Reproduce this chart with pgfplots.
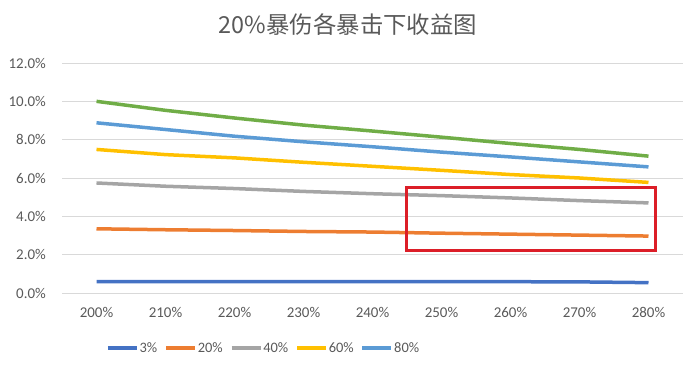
\documentclass[border=0pt]{standalone}
\usepackage{fontspec}
\setmainfont{Carlito}
\newfontfamily\cjk{Noto Sans CJK SC}
\usepackage{pgfplots}
\pgfplotsset{compat=1.18}
\definecolor{cA}{HTML}{4472C4}
\definecolor{cB}{HTML}{ED7D31}
\definecolor{cC}{HTML}{A5A5A5}
\definecolor{cD}{HTML}{FFC000}
\definecolor{cE}{HTML}{5B9BD5}
\definecolor{cF}{HTML}{70AD47}
\definecolor{txt}{HTML}{595959}
\definecolor{grd}{HTML}{D9D9D9}
\definecolor{redbox}{HTML}{DC1E28}
\begin{document}
\begin{tikzpicture}
\useasboundingbox (-62bp,-76bp) rectangle (638bp,293bp);
\node[font=\cjk\fontsize{23.5}{28}\selectfont, text=txt] at (286bp,268bp) {20\%暴伤各暴击下收益图};
\begin{axis}[
  at={(0,0)}, anchor=south west,
  scale only axis, width=621bp, height=230bp,
  xmin=-0.5, xmax=8.5, ymin=0, ymax=12,
  axis line style={draw=none},
  major tick length=0,
  ytick={0,2,4,6,8,10,12},
  yticklabels={0.0\%,2.0\%,4.0\%,6.0\%,8.0\%,10.0\%,12.0\%},
  xtick={0,...,8},
  xticklabels={200\%,210\%,220\%,230\%,240\%,250\%,260\%,270\%,280\%},
  ymajorgrids, grid style={grd, line width=0.8bp},
  yticklabel style={inner sep=0pt, xshift=-16bp, anchor=east, font=\fontsize{15}{17}\selectfont, text=txt},
  xticklabel style={inner sep=0pt, yshift=-14bp, anchor=north, font=\fontsize{15}{17}\selectfont, text=txt},
  legend columns=5,
  legend style={at={(axis description cs:0.066,-0.239)}, anchor=west, draw=none, fill=none,
    font=\fontsize{14.5}{17}\selectfont, text=txt, nodes={inner sep=1bp},
    /tikz/every even column/.append style={column sep=6bp}},
  legend image code/.code={\draw[#1, line width=3.5bp] (0bp,0bp) -- (29bp,0bp);},
  every axis plot/.append style={line width=3.5bp, no markers},
]
\addplot[cA] coordinates {(0,0.59)(1,0.59)(2,0.59)(3,0.59)(4,0.59)(5,0.59)(6,0.59)(7,0.58)(8,0.54)};
\addlegendentry{3\%}
\addplot[cB] coordinates {(0,3.35)(1,3.30)(2,3.26)(3,3.21)(4,3.18)(5,3.12)(6,3.07)(7,3.02)(8,2.97)};
\addlegendentry{20\%}
\addplot[cC] coordinates {(0,5.74)(1,5.57)(2,5.45)(3,5.30)(4,5.18)(5,5.08)(6,4.96)(7,4.82)(8,4.70)};
\addlegendentry{40\%}
\addplot[cD] coordinates {(0,7.49)(1,7.22)(2,7.05)(3,6.82)(4,6.61)(5,6.40)(6,6.18)(7,6.00)(8,5.77)};
\addlegendentry{60\%}
\addplot[cE] coordinates {(0,8.88)(1,8.53)(2,8.18)(3,7.89)(4,7.63)(5,7.35)(6,7.10)(7,6.84)(8,6.58)};
\addlegendentry{80\%}
\addplot[cF, forget plot] coordinates {(0,10.0)(1,9.53)(2,9.13)(3,8.76)(4,8.45)(5,8.13)(6,7.80)(7,7.49)(8,7.14)};
\draw[redbox, line width=3bp] (axis cs:4.49,5.48) rectangle (axis cs:8.1,2.21);
\end{axis}
\end{tikzpicture}
\end{document}
